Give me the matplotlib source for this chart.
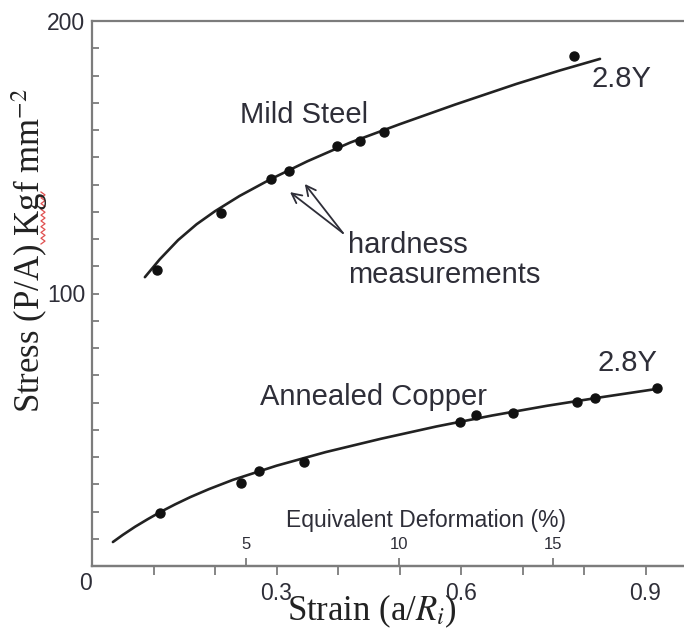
import numpy as np
from matplotlib import pyplot as plt
from matplotlib.lines import Line2D

plt.rcParams['font.family'] = ['Liberation Sans', 'DejaVu Sans']
plt.rcParams['mathtext.fontset'] = 'stix'

TEXT = '#2e2e38'
SPINE = '#7c7c7c'
INK = '#222222'

# mild steel: hardness measurements and fitted curve
steel_x = [0.106, 0.210, 0.291, 0.320, 0.398, 0.436, 0.475, 0.784]
steel_y = [108.6, 129.5, 142.0, 145.0, 154.1, 156.0, 159.3, 187.2]
steel_fit_x = [0.086, 0.11, 0.14, 0.17, 0.20, 0.24, 0.29, 0.35, 0.42, 0.50, 0.59, 0.69, 0.76, 0.826]
steel_fit_y = [106.0, 112.5, 119.6, 125.4, 130.2, 135.8, 141.9, 148.5, 155.4, 162.1, 169.3, 176.9, 181.8, 186.1]

# annealed copper
copper_x = [0.111, 0.242, 0.272, 0.345, 0.598, 0.624, 0.685, 0.789, 0.818, 0.919]
copper_y = [19.4, 30.5, 34.9, 38.2, 52.8, 55.4, 56.1, 60.2, 61.7, 65.3]
copper_fit_x = [0.034, 0.05, 0.07, 0.09, 0.111, 0.135, 0.16, 0.19, 0.229, 0.30, 0.38,
                0.47, 0.56, 0.65, 0.74, 0.83, 0.919]
copper_fit_y = [8.8, 11.4, 14.4, 17.1, 19.8, 22.6, 25.3, 28.2, 31.6, 36.8, 41.8,
                46.7, 51.2, 55.2, 58.8, 62.0, 65.0]

strain_labels = [0.3, 0.6, 0.9]
strain_minor = [0.1, 0.2, 0.4, 0.5, 0.7, 0.8]
deform_ticks = [5, 10, 15]
stress_labels = [100, 200]


def strain_to_deform(s):
    return np.asarray(s) * 20.0


def deform_to_strain(d):
    return np.asarray(d) / 20.0


fig = plt.figure(figsize=(6.84, 6.35), dpi=100)
ax = fig.add_axes([92 / 684, 69 / 635, 615 / 684, 545 / 635])
ax.set_xlim(0, 1.0)
ax.set_ylim(0, 200)

ax.plot(steel_fit_x, steel_fit_y, color=INK, lw=1.9, solid_capstyle='round', solid_joinstyle='round')
ax.plot(steel_x, steel_y, 'o', color='#111111', ms=6.5)
ax.plot(copper_fit_x, copper_fit_y, color=INK, lw=1.9, solid_capstyle='round', solid_joinstyle='round')
ax.plot(copper_x, copper_y, 'o', color='#111111', ms=6.5)

for side in ['left', 'bottom', 'top']:
    ax.spines[side].set_color(SPINE)
    ax.spines[side].set_linewidth(1.6)
ax.spines['right'].set_visible(False)

ax.set_xticks(strain_labels)
ax.set_xticklabels([str(v) for v in strain_labels])
ax.set_xticks(strain_minor, minor=True)
ax.tick_params(axis='x', which='both', direction='out', length=6.5, width=1.3,
               color=SPINE, labelsize=16.5, labelcolor=TEXT, pad=5)

ax.set_yticks(stress_labels)
ax.set_yticks([v for v in range(10, 200, 10) if v != 100], minor=True)
ax.tick_params(axis='y', which='both', direction='in', length=5, width=1.3,
               color=SPINE, labelsize=16.5, labelcolor=TEXT, pad=5)

ax.annotate('0', xy=(0, 0), xytext=(-7, -17), textcoords='offset pixels',
            ha='center', va='center', fontsize=16.5, color=TEXT)

# equivalent deformation scale, ticks pointing up from the strain axis
sec = ax.secondary_xaxis('bottom', functions=(strain_to_deform, deform_to_strain))
sec.set_xticks(deform_ticks)
sec.xaxis.set_ticks_position('top')
sec.tick_params(axis='x', direction='out', length=6, width=1.3, color=SPINE,
                labelsize=12, labelcolor=TEXT, pad=4, labeltop=True, labelbottom=False)
for s in sec.spines.values():
    s.set_color(SPINE)
    s.set_linewidth(1.6)
ax.text(0.543, 0.0716, 'Equivalent Deformation (%)', transform=ax.transAxes,
        ha='center', va='baseline', fontsize=16.5, color=TEXT)

ax.set_xlabel(r'Strain (a/$R_i$)', family='Liberation Serif', fontsize=25, color=INK)
ax.xaxis.set_label_coords(0.455, -0.048)
fig.text(30 / 684, 1 - 250 / 635, r'Stress (P/A) Kgf mm$^{-2}$', family='Liberation Serif',
         fontsize=25, color=INK, rotation=90, ha='center', va='center')

# curve labels
ax.text(0.241, 162.6, 'Mild Steel', fontsize=21, color=TEXT, va='baseline')
ax.text(0.813, 175.8, '2.8Y', fontsize=21, color=TEXT, va='baseline')
ax.text(0.642, 59.1, 'Annealed Copper', fontsize=21, color=TEXT, va='baseline', ha='right')
ax.text(0.920, 71.6, '2.8Y', fontsize=21, color=TEXT, va='baseline', ha='right')
ax.text(0.416, 114.9, 'hardness', fontsize=21, color=TEXT, va='baseline')
ax.text(0.416, 103.9, 'measurements', fontsize=21, color=TEXT, va='baseline')

arrow = dict(arrowstyle='->,head_length=0.7,head_width=0.35', lw=1.3, color=TEXT,
             shrinkA=0, shrinkB=0)
ax.annotate('', xy=(0.322, 137.2), xytext=(0.408, 122.2), arrowprops=arrow)
ax.annotate('', xy=(0.346, 140.2), xytext=(0.408, 122.2), arrowprops=arrow)

# red spell-check squiggle under "Kgf"
sq_y = np.linspace(192, 244, 19)
sq_x = np.where(np.arange(sq_y.size) % 2 == 0, 41.0, 45.0)
fig.add_artist(Line2D(sq_x / 684, 1 - sq_y / 635, transform=fig.transFigure,
                      color='#e05050', lw=0.9))

fig.savefig('out.png', dpi=100)
